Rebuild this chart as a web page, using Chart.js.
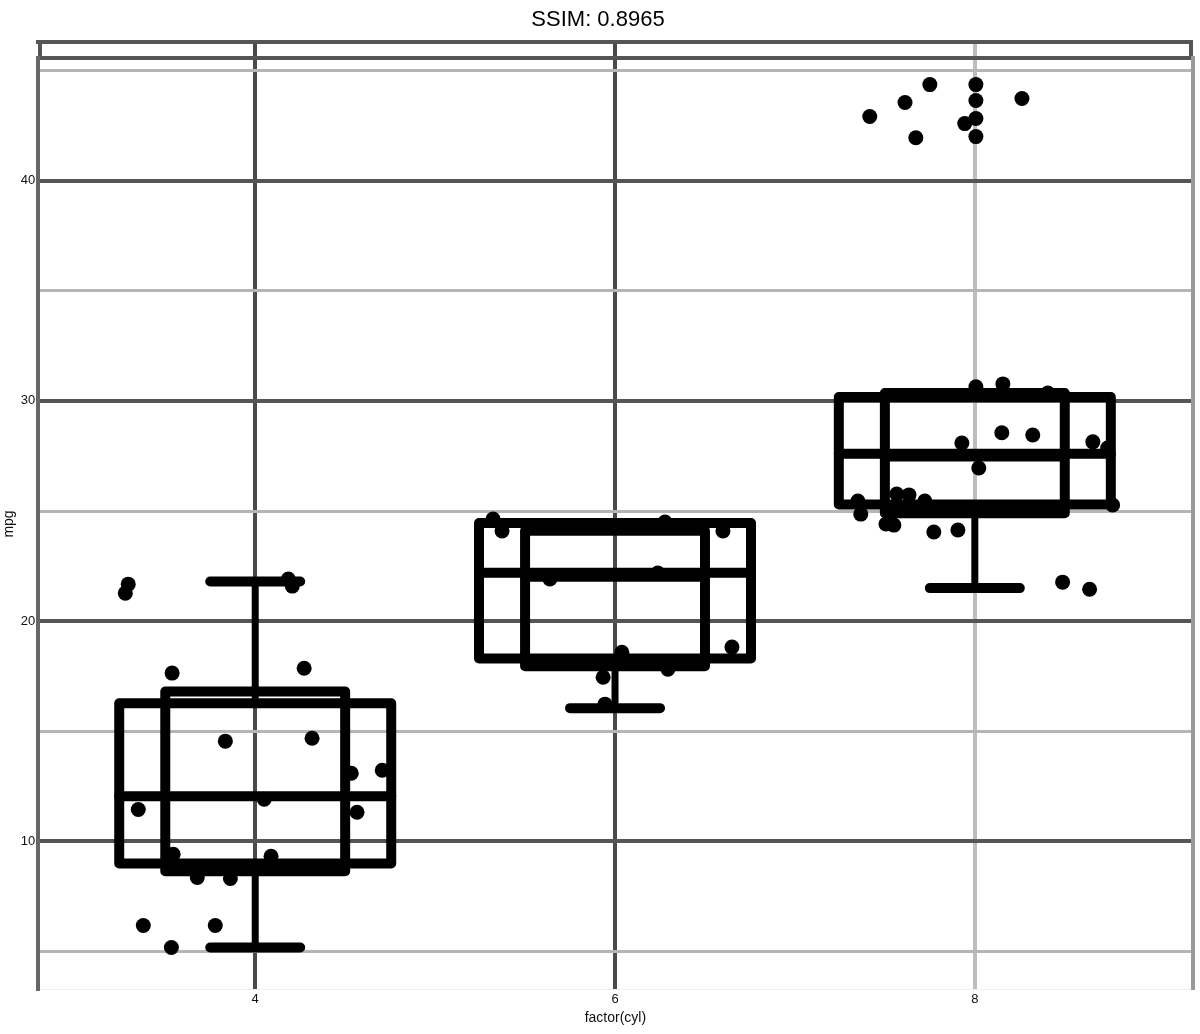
<!DOCTYPE html>
<html><head><meta charset="utf-8">
<script src="https://cdn.jsdelivr.net/npm/chart.js@4.4.1/dist/chart.umd.min.js"></script>
<style>html,body{margin:0;padding:0;background:#fff}#wrap{width:1200px;height:1034px;position:relative}</style>
</head><body><div id="wrap"><canvas id="c"></canvas></div>
<script>
// ---- data ----
const categories = ['4', '6', '8'];
const catPos = [1, 2, 3];
const yTicks = [5, 10, 15, 20, 25, 30, 35, 40, 45];
const yTickLabels = ['', '10', '', '20', '', '30', '', '40', ''];

const wideQ3 = [16.27, 24.45, 30.18];
const wideMed = [12.05, 22.2, 27.6];
const wideQ1 = [9.0, 18.3, 25.3];
const narrowQ3 = [16.8, 24.1, 30.36];
const narrowMed = [11.95, 21.9, 27.36];
const narrowQ1 = [8.64, 17.95, 24.9];
const whiskerHigh = [21.8, 24.45, 30.4];
const whiskerLow = [5.18, 16.05, 21.5];

const g1x = [0.647, 0.639, 0.769, 1.136, 0.917, 1.158, 1.267, 1.353, 0.675, 1.283, 1.025, 0.772, 1.044, 0.839, 0.931, 0.689, 0.889, 0.767, 1.092, 1.103];
const g1y = [21.68, 21.27, 17.64, 17.86, 14.55, 14.68, 13.09, 13.23, 11.45, 11.32, 11.91, 9.41, 9.32, 8.36, 8.32, 6.18, 6.18, 5.18, 21.91, 21.59];
const g2x = [1.661, 1.686, 2.139, 2.3, 1.819, 2.119, 2.325, 2.019, 2.147, 1.967, 1.972];
const g2y = [24.64, 24.09, 24.5, 24.09, 21.91, 22.18, 18.82, 18.59, 17.82, 17.45, 16.23];
const g3x = [3.003, 3.078, 3.203, 2.964, 3.075, 3.161, 3.328, 3.369, 3.011, 2.675, 2.683, 2.783, 2.817, 2.861, 2.753, 2.775, 2.886, 2.953, 3.383, 3.244, 3.319];
const g3y = [30.64, 30.77, 30.36, 28.09, 28.55, 28.45, 28.14, 27.86, 26.95, 25.45, 24.86, 25.77, 25.73, 25.45, 24.41, 24.36, 24.05, 24.14, 25.27, 21.77, 21.45];
const outX = [2.708, 2.806, 2.875, 3.003, 3.003, 3.131, 2.836, 3.003, 3.003, 2.972];
const outY = [42.91, 43.55, 44.36, 44.36, 43.64, 43.73, 41.95, 42.82, 42.0, 42.59];

// ---- styles / sizes ----
const WIDE_HALF = 0.378, NARROW_HALF = 0.25, CAP_HALF = 0.125;
const X_MIN = 0.397, X_MAX = 3.605, Y_MIN = 3.27, Y_MAX = 45.55;
const INK = '#000';
const FONT = 'Liberation Sans, Arial, sans-serif';

function seg(points, width) {
  return { data: points, showLine: true, pointRadius: 0, borderColor: INK, borderWidth: width,
           borderCapStyle: 'round', borderJoinStyle: 'round', tension: 0, fill: false };
}
function rect(x, lo, hi, h, width) {
  return seg([{x: x - h, y: lo}, {x: x + h, y: lo}, {x: x + h, y: hi}, {x: x - h, y: hi}, {x: x - h, y: lo}], width);
}
const datasets = [];
catPos.forEach((x, i) => {
  datasets.push(seg([{x, y: wideQ3[i]}, {x, y: whiskerHigh[i]}], 7));
  datasets.push(seg([{x, y: wideQ1[i]}, {x, y: whiskerLow[i]}], 7));
  if (whiskerHigh[i] > wideQ3[i] + 1) datasets.push(seg([{x: x - CAP_HALF, y: whiskerHigh[i]}, {x: x + CAP_HALF, y: whiskerHigh[i]}], 10));
  datasets.push(seg([{x: x - CAP_HALF, y: whiskerLow[i]}, {x: x + CAP_HALF, y: whiskerLow[i]}], 10));
  datasets.push(rect(x, wideQ1[i], wideQ3[i], WIDE_HALF, 10));
  datasets.push(rect(x, narrowQ1[i], narrowQ3[i], NARROW_HALF, 10));
  datasets.push(seg([{x: x - WIDE_HALF, y: wideMed[i]}, {x: x + WIDE_HALF, y: wideMed[i]}], 10));
  datasets.push(seg([{x: x - NARROW_HALF, y: narrowMed[i]}, {x: x + NARROW_HALF, y: narrowMed[i]}], 5));
});
const pts = (xs, ys) => xs.map((v, i) => ({x: v, y: ys[i]}));
[[g1x, g1y], [g2x, g2y], [g3x, g3y], [outX, outY]].forEach(([xs, ys]) => {
  datasets.push({ data: pts(xs, ys), showLine: false, pointRadius: 7.5, pointHoverRadius: 7.5,
                  backgroundColor: INK, borderWidth: 0 });
});

const catGridColor = v => v === 3 ? '#bdbdbd' : (v === 1 || v === 2 ? '#4a4a4a' : '#555');

new Chart(document.getElementById('c'), {
  type: 'scatter',
  data: { datasets },
  options: {
    responsive: true, maintainAspectRatio: false, animation: false,
    layout: { padding: { left: 1, right: 5, top: 0, bottom: 7 } },
    plugins: {
      legend: { display: false }, tooltip: { enabled: false },
      title: { display: true, text: 'SSIM: 0.8965', color: '#000',
               font: { family: FONT, size: 22, weight: 'normal' },
               padding: { top: 7, bottom: 7 } }
    },
    scales: {
      x: {
        type: 'linear', min: X_MIN, max: X_MAX,
        afterBuildTicks: s => { s.ticks = catPos.map(v => ({value: v})); },
        ticks: { callback: v => categories[catPos.indexOf(v)], color: '#111', padding: 2,
                 font: { family: FONT, size: 13 } },
        grid: { color: c => catGridColor(c.tick && c.tick.value), lineWidth: 4, drawTicks: false },
        border: { display: true, color: '#eee', width: 1 },
        title: { display: true, text: 'factor(cyl)', color: '#111', padding: { top: 1, bottom: 0 },
                 font: { family: FONT, size: 14 } }
      },
      xStrip: {
        type: 'linear', position: 'top', min: X_MIN, max: X_MAX,
        afterBuildTicks: s => { s.ticks = [X_MIN + 0.005].concat(catPos, [X_MAX - 0.005]).map(v => ({value: v})); },
        afterFit: s => { s.height = 16; },
        ticks: { display: false },
        grid: { drawOnChartArea: false, drawTicks: true, tickLength: 16, lineWidth: 4,
                color: c => catGridColor(c.tick && c.tick.value) },
        border: { display: true, color: '#555', width: 4 }
      },
      xStripTop: {
        type: 'linear', position: 'top', min: X_MIN, max: X_MAX,
        afterFit: s => { s.height = 2; },
        ticks: { display: false }, grid: { drawOnChartArea: false, drawTicks: false },
        border: { display: true, color: '#555', width: 4 }
      },
      y: {
        type: 'linear', min: Y_MIN, max: Y_MAX,
        afterBuildTicks: s => { s.ticks = yTicks.map(v => ({value: v})); },
        ticks: { callback: v => yTickLabels[yTicks.indexOf(v)], color: '#111', padding: 3,
                 font: { family: FONT, size: 13 } },
        grid: { color: c => c.tick && c.tick.value % 10 === 0 ? '#555' : '#b5b5b5',
                lineWidth: c => c.tick && c.tick.value % 10 === 0 ? 4 : 3, drawTicks: false },
        border: { display: true, color: '#666', width: 4 },
        title: { display: true, text: 'mpg', color: '#111', padding: { top: 0, bottom: 0 },
                 font: { family: FONT, size: 14 } }
      },
      yRight: {
        type: 'linear', position: 'right', min: Y_MIN, max: Y_MAX,
        afterFit: s => { s.width = 2; },
        ticks: { display: false }, grid: { drawOnChartArea: false, drawTicks: false },
        border: { display: true, color: '#999', width: 4 }
      }
    }
  }
});
</script>
</body></html>
